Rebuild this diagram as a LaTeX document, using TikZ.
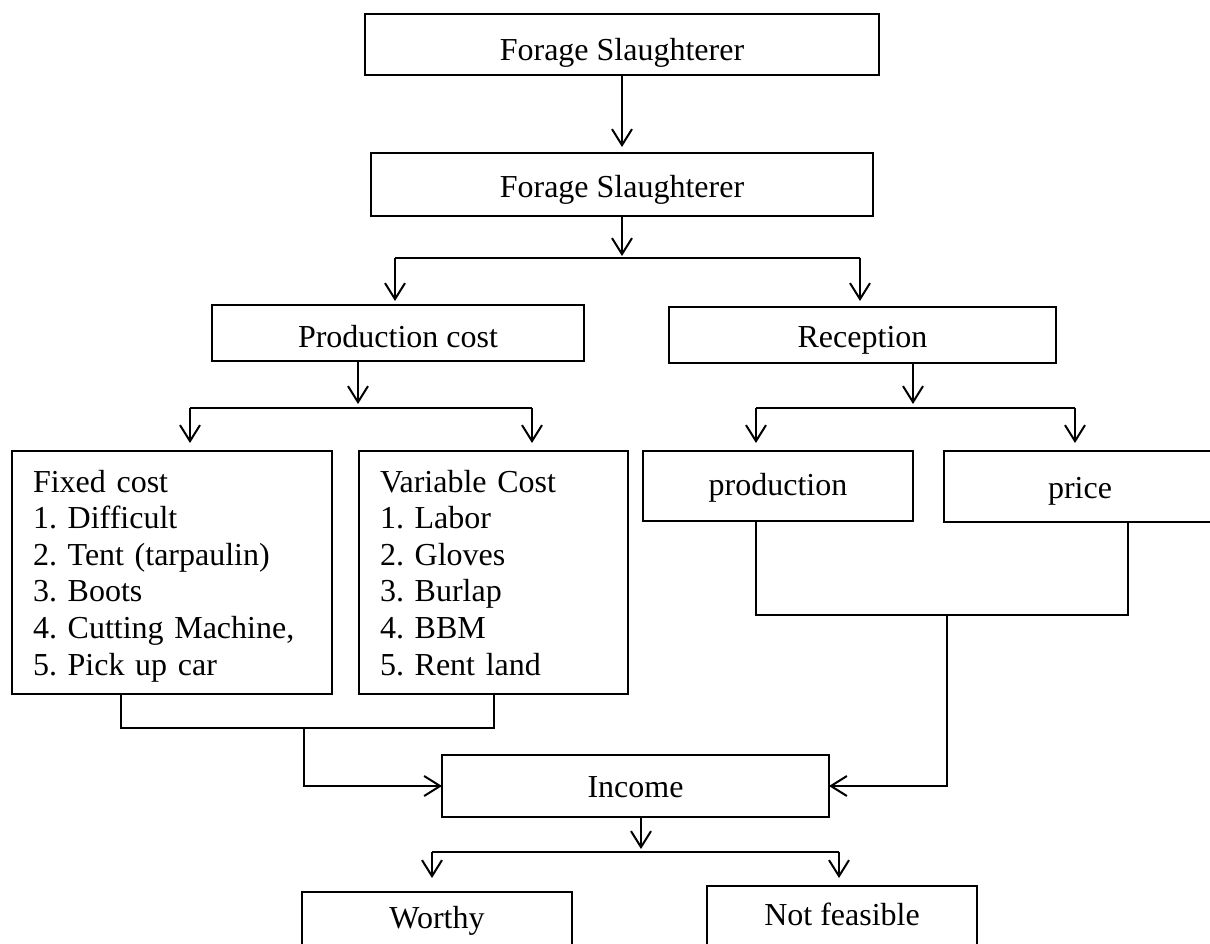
\documentclass[tikz,border=0pt]{standalone}
\usepackage{fontspec}
\setmainfont{Liberation Serif}
\usetikzlibrary{arrows.meta,calc}
\tikzset{
  box/.style={draw, line width=2.2pt, inner sep=0pt, outer sep=0pt, anchor=north west,
    font=\fontsize{32}{36.6}\selectfont, text height=22pt, text depth=0pt},
  conn/.style={line width=2pt, line join=miter},
  arr/.style={conn, -{Straight Barb[length=16pt,width=20pt]}},
  listtxt/.style={anchor=base west, inner sep=0pt, outer sep=0pt, align=left, text width=295pt,
    font=\fontsize{32}{36.6}\selectfont\frenchspacing},
}
\begin{document}
\begin{tikzpicture}[x=1pt,y=-1pt]
\useasboundingbox (0,0) rectangle (1210,943);
\fill[white] (0,0) rectangle (1210,943);

% boxes
\node[box, minimum width=514pt, minimum height=61pt, text height=32pt] (top1) at (365,14) {Forage Slaughterer};
\node[box, minimum width=502pt, minimum height=63pt, text height=26pt] (top2) at (371,153) {Forage Slaughterer};
\node[box, minimum width=372pt, minimum height=56pt, text height=28pt] (pcost) at (212,305) {Production cost};
\node[box, minimum width=387pt, minimum height=56pt, text height=24pt] (recep) at (669,307) {Reception};
\node[box, minimum width=320pt, minimum height=243pt] (fixed) at (12,451) {};
\node[box, minimum width=269pt, minimum height=243pt] (var) at (359,451) {};
\node[listtxt] (fixedtxt) at (33,492) {Fixed cost\\1. Difficult\\2. Tent (tarpaulin)\\3. Boots\\4. Cutting Machine,\\5. Pick up car};
\node[listtxt, text width=240pt] (vartxt) at (380,492) {Variable Cost\\1. Labor\\2. Gloves\\3. Burlap\\4. BBM\\5. Rent land};
\node[box, minimum width=270pt, minimum height=70pt, text height=18pt] (prodn) at (643,451) {production};
\node[box, minimum width=272pt, minimum height=71pt, text height=24pt] (price) at (944,451) {price};
\node[box, minimum width=387pt, minimum height=62pt] (income) at (442,755) {Income};
\node[box, minimum width=270pt, minimum height=72pt, text depth=22pt] (worthy) at (302,892) {Worthy};
\node[box, minimum width=270pt, minimum height=78pt, text depth=22pt] (notf) at (707,886) {Not feasible};

% junction coordinates
\coordinate (j1) at (622,256);
\coordinate (j1L) at (395,258);
\coordinate (j1R) at (860,258);
\coordinate (j2) at (358,404);
\coordinate (j2L) at (190,408);
\coordinate (j2R) at (532,408);
\coordinate (j3) at (913,404);
\coordinate (j3L) at (756,408);
\coordinate (j3R) at (1075,408);
\coordinate (j4L) at (121,728);
\coordinate (j4R) at (494,728);
\coordinate (j4) at (304,728);
\coordinate (j5L) at (756,615);
\coordinate (j5R) at (1128,615);
\coordinate (j5) at (947,615);
\coordinate (j6) at (641,849);
\coordinate (j6L) at (432,852);
\coordinate (j6R) at (839,852);

% top
\draw[arr, shorten >=6pt] (top1.south -| j1) -- (top2.north -| j1);
\draw[arr] (top2.south -| j1) -- (j1);
\draw[conn] (j1L) -- (j1R);
\draw[arr, shorten >=4pt] (j1L) -- (j1L |- pcost.north);
\draw[arr, shorten >=6pt] (j1R) -- (j1R |- recep.north);

% production cost branch
\draw[arr] (pcost.south -| j2) -- (j2);
\draw[conn] (j2L) -- (j2R);
\draw[arr, shorten >=8pt] (j2L) -- (j2L |- fixed.north);
\draw[arr, shorten >=8pt] (j2R) -- (j2R |- var.north);

% reception branch
\draw[arr] (recep.south -| j3) -- (j3);
\draw[conn] (j3L) -- (j3R);
\draw[arr, shorten >=8pt] (j3L) -- (j3L |- prodn.north);
\draw[arr, shorten >=8pt] (j3R) -- (j3R |- price.north);

% costs to income
\draw[conn] (fixed.south -| j4L) -- (j4L) -- (j4R) -- (var.south -| j4R);
\draw[arr] (j4) |- (income.west);

% reception items to income
\draw[conn] (prodn.south -| j5L) -- (j5L) -- (j5R) -- (price.south -| j5R);
\draw[arr] (j5) |- (income.east);

% income branch
\draw[arr] (income.south -| j6) -- (j6);
\draw[conn] (j6L) -- (j6R);
\draw[arr, shorten >=14pt] (j6L) -- (j6L |- worthy.north);
\draw[arr, shorten >=8pt] (j6R) -- (j6R |- notf.north);
\end{tikzpicture}
\end{document}
